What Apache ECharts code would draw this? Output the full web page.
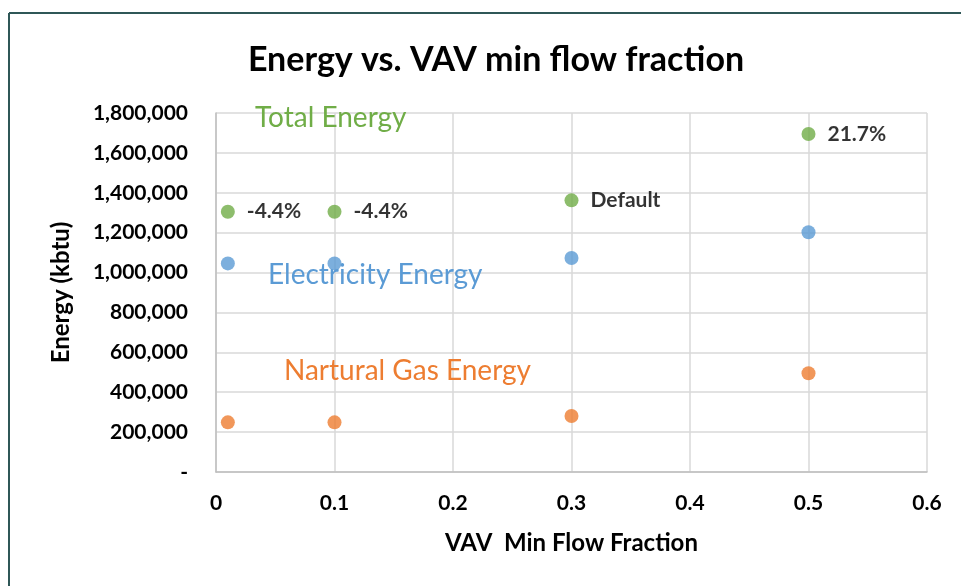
<!DOCTYPE html>
<html>
<head>
<meta charset="utf-8">
<script src="https://cdn.jsdelivr.net/npm/echarts@6/dist/echarts.min.js"></script>
<style>
html,body{margin:0;padding:0;background:#fff;}
#main{width:961px;height:586px;}
</style>
</head>
<body>
<div id="main"></div>
<script>
// VAV min flow fraction vs energy (kbtu)
var flowFraction = [0.01, 0.1, 0.3, 0.5];
var totalEnergy = [1305000, 1305000, 1362000, 1695000];
var elecEnergy = [1046000, 1046000, 1073000, 1202000];
var gasEnergy = [249000, 249000, 281000, 495000];
var totalLabels = ['-4.4%', '-4.4%', 'Default', '21.7%'];
var xTicks = [0, 0.1, 0.2, 0.3, 0.4, 0.5, 0.6];
var yTicks = [0, 200000, 400000, 600000, 800000, 1000000, 1200000, 1400000, 1600000, 1800000];

var FONT = 'Lato, "Open Sans", sans-serif';

function pairs(xs, ys){
	var out = [];
	for(var i=0;i<xs.length;i++){
		out.push([xs[i], ys[i]]);
	}
	return out;
}

var myChart = echarts.init(document.getElementById('main'));
var option = {
	backgroundColor: '#fff',
	animation: false,
	title: {
		text: 'Energy vs. VAV min flow fraction',
		left: 491,
		textAlign: 'center',
		top: 38,
		textStyle: {fontFamily: FONT, fontSize: 34, fontWeight: 'bold', color: '#000'}
	},
	grid: {left: 216, top: 113, width: 711, height: 359, containLabel: false},
	xAxis: {
		type: 'value',
		min: xTicks[0],
		max: xTicks[xTicks.length - 1],
		interval: 0.1,
		name: 'VAV  Min Flow Fraction',
		nameLocation: 'middle',
		nameGap: 59,
		nameTextStyle: {fontFamily: FONT, fontSize: 24, fontWeight: 'bold', color: '#000'},
		axisLine: {show: true, lineStyle: {color: '#bfbfbf', width: 1.5}},
		axisTick: {show: false},
		axisLabel: {margin: 21, fontFamily: FONT, fontSize: 21, fontWeight: 'bold', color: '#000',
			formatter: function(v){ return String(Math.round(v*10)/10); }},
		splitLine: {show: true, lineStyle: {color: '#d9d9d9', width: 1.5}}
	},
	yAxis: {
		type: 'value',
		min: yTicks[0],
		max: yTicks[yTicks.length - 1],
		interval: 200000,
		name: 'Energy (kbtu)',
		nameLocation: 'middle',
		nameGap: 143,
		nameTextStyle: {fontFamily: FONT, fontSize: 24, fontWeight: 'bold', color: '#000'},
		axisLine: {show: true, lineStyle: {color: '#bfbfbf', width: 1.5}},
		axisTick: {show: false},
		axisLabel: {margin: 28, fontFamily: FONT, fontSize: 21, fontWeight: 'bold', color: '#000',
			formatter: function(v){ return v === 0 ? '-' : v.toLocaleString('en-US'); }},
		splitLine: {show: true, lineStyle: {color: '#d9d9d9', width: 1.5}}
	},
	series: [
		{
			name: 'Total Energy',
			type: 'scatter',
			symbolSize: 14,
			itemStyle: {color: '#70ad47'},
			data: pairs(flowFraction, totalEnergy),
			label: {
				show: true,
				position: 'right',
				distance: 12,
				fontFamily: FONT,
				fontSize: 21,
				fontWeight: 'bold',
				color: '#000',
				formatter: function(p){ return totalLabels[p.dataIndex]; }
			}
		},
		{
			name: 'Electricity Energy',
			type: 'scatter',
			symbolSize: 14,
			itemStyle: {color: '#5b9bd5'},
			data: pairs(flowFraction, elecEnergy)
		},
		{
			name: 'Nartural Gas Energy',
			type: 'scatter',
			symbolSize: 14,
			itemStyle: {color: '#ed7d31'},
			data: pairs(flowFraction, gasEnergy)
		}
	],
	graphic: [
		// outer frame: only top and left edges are inside the picture
		{type: 'line', shape: {x1: 9, y1: 13, x2: 961, y2: 13},
			style: {stroke: '#2f5757', lineWidth: 2}, silent: true},
		{type: 'line', shape: {x1: 9, y1: 13, x2: 9, y2: 586},
			style: {stroke: '#2f5757', lineWidth: 2}, silent: true},
		{type: 'text', left: 255, top: 104, z: 10,
			style: {text: 'Total Energy', fill: '#70ad47', font: '28px ' + FONT}},
		{type: 'text', left: 268, top: 261, z: 10,
			style: {text: 'Electricity Energy', fill: '#5b9bd5', font: '28px ' + FONT}},
		{type: 'text', left: 284, top: 357, z: 10,
			style: {text: 'Nartural Gas Energy', fill: '#ed7d31', font: '28px ' + FONT}}
	]
};
myChart.setOption(option);
</script>
</body>
</html>
